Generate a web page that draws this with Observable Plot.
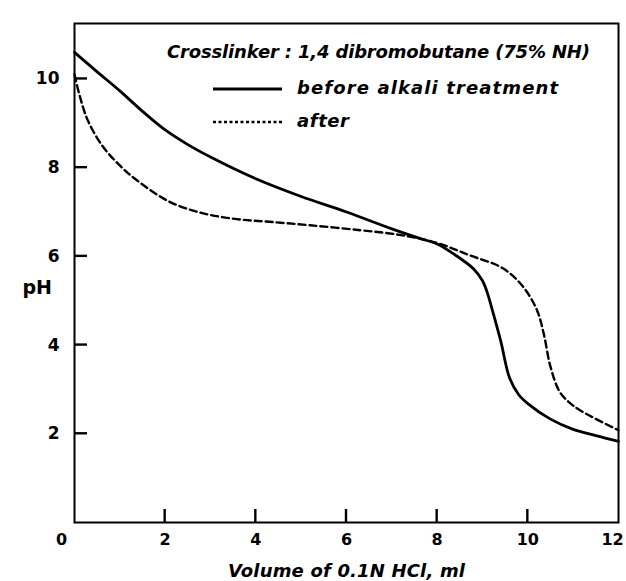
<!DOCTYPE html>
<html><head><meta charset="utf-8">
<script src="https://cdn.jsdelivr.net/npm/d3@7"></script>
<script src="https://cdn.jsdelivr.net/npm/@observablehq/plot@0.6"></script>
<style>body{margin:0;background:#fff} svg{display:block}</style>
</head><body><div id="chart"></div>
<script>
// Series: before alkali treatment (solid)
const beforeVolume = [0, 0.5, 1, 1.5, 2, 2.5, 3, 4, 5, 6, 7, 7.6, 8, 8.4, 8.8, 9.0, 9.1, 9.2, 9.4, 9.6, 9.8, 10, 10.5, 11, 11.5, 12];
const beforePH     = [10.6, 10.16, 9.73, 9.27, 8.85, 8.52, 8.24, 7.75, 7.35, 7.0, 6.62, 6.41, 6.28, 6.03, 5.72, 5.45, 5.2, 4.85, 4.1, 3.25, 2.88, 2.68, 2.33, 2.1, 1.96, 1.83];
// Series: after (dashed)
const afterVolume = [0, 0.12, 0.3, 0.63, 1.0, 1.37, 2.1, 2.84, 3.58, 4.3, 5.2, 6.3, 7.2, 8.0, 8.7, 9.45, 9.9, 10.2, 10.35, 10.5, 10.7, 10.9, 11.15, 12];
const afterPH     = [10.1, 9.6, 9.05, 8.47, 8.05, 7.72, 7.23, 6.97, 6.84, 6.78, 6.70, 6.59, 6.48, 6.30, 6.03, 5.73, 5.31, 4.79, 4.26, 3.51, 2.95, 2.72, 2.53, 2.08];

const xTicks = [0, 2, 4, 6, 8, 10, 12];
const yTicks = [2, 4, 6, 8, 10];
const seriesNames = ["before alkali treatment", "after"];
const legendTitle = "Crosslinker : 1,4 dibromobutane (75% NH)";
const xLabel = "Volume of 0.1N HCl, ml";
const yLabel = "pH";

const before = beforeVolume.map((v, i) => ({v, ph: beforePH[i]}));
const after = afterVolume.map((v, i) => ({v, ph: afterPH[i]}));

const font = "'DejaVu Sans', sans-serif";
const innerTicks = xTicks.slice(1, -1);

const W = 626, H = 581, ML = 74, MR = 8, MT = 23, MB = 59;

const chart = Plot.plot({
  width: W, height: H,
  marginLeft: ML, marginRight: MR, marginTop: MT, marginBottom: MB,
  style: {fontFamily: font, fontSize: "16px", fontWeight: "bold", color: "#000", background: "#fff"},
  x: {domain: [0, 12]},
  y: {domain: [0, 11.25]},
  marks: [
    Plot.frame({stroke: "#000", strokeWidth: 2}),
    // tick labels
    Plot.axisX(innerTicks, {tickSize: 0, tickPadding: 11, fontSize: 16, label: xLabel, labelAnchor: "center", labelOffset: 54, labelArrow: "none"}),
    Plot.axisX(xTicks.slice(0, 1), {tickSize: 0, tickPadding: 11, fontSize: 16, dx: -13, label: null}),
    Plot.axisX(xTicks.slice(-1), {tickSize: 0, tickPadding: 11, fontSize: 16, dx: -6, label: null}),
    Plot.axisY(yTicks, {tickSize: 0, tickPadding: 15, fontSize: 17, label: null}),
    Plot.text([yLabel], {frameAnchor: "left", dx: -52, dy: 15, fontSize: 19, fontWeight: "bold"}),
    Plot.line(before, {x: "v", y: "ph", curve: "catmull-rom", stroke: "#000", strokeWidth: 2.8}),
    Plot.line(after, {x: "v", y: "ph", curve: "catmull-rom", stroke: "#000", strokeWidth: 2.4, strokeDasharray: "7,4"})
  ]
});

const svg = d3.select(chart);
const sx = chart.scale("x"), sy = chart.scale("y");

// inward tick marks, positioned through the plot's own scales
const tg = svg.append("g").attr("fill", "none").attr("stroke", "#000").attr("stroke-width", 2.4);
innerTicks.forEach(t => {
  const px = sx.apply(t);
  tg.append("path").attr("d", `M${px},${H - MB}V${H - MB - 13}`);
});
yTicks.forEach(t => {
  const py = sy.apply(t);
  tg.append("path").attr("d", `M${ML},${py}H${ML + 13}`);
});

// style the axis title italic, matched to the reference's lettering width
svg.selectAll("text").filter(function() { return this.textContent === xLabel; })
  .attr("font-style", "italic").attr("font-size", 18)
  .attr("textLength", 237).attr("lengthAdjust", "spacing");

// Legend (inside the plot frame, upper right)
const lg = svg.append("g").attr("font-family", font).attr("font-weight", "bold")
  .attr("font-style", "italic").attr("font-size", 18).attr("fill", "#000")
  .attr("text-anchor", "start");
lg.append("text").attr("x", 167).attr("y", 52).attr("dy", "0.35em")
  .attr("textLength", 423).attr("lengthAdjust", "spacing").text(legendTitle);
const rows = [{y: 89, dash: null, w: 2.8, len: 261}, {y: 122, dash: "3,2.5", w: 2.4, len: 52}];
seriesNames.forEach((name, i) => {
  const r = rows[i];
  lg.append("line").attr("x1", 213).attr("x2", 282).attr("y1", r.y).attr("y2", r.y)
    .attr("stroke", "#000").attr("stroke-width", r.w).attr("stroke-dasharray", r.dash);
  lg.append("text").attr("x", 297).attr("y", r.y - 1).attr("dy", "0.35em")
    .attr("textLength", r.len).attr("lengthAdjust", "spacing").text(name);
});

document.getElementById("chart").append(chart);
</script>
</body></html>
